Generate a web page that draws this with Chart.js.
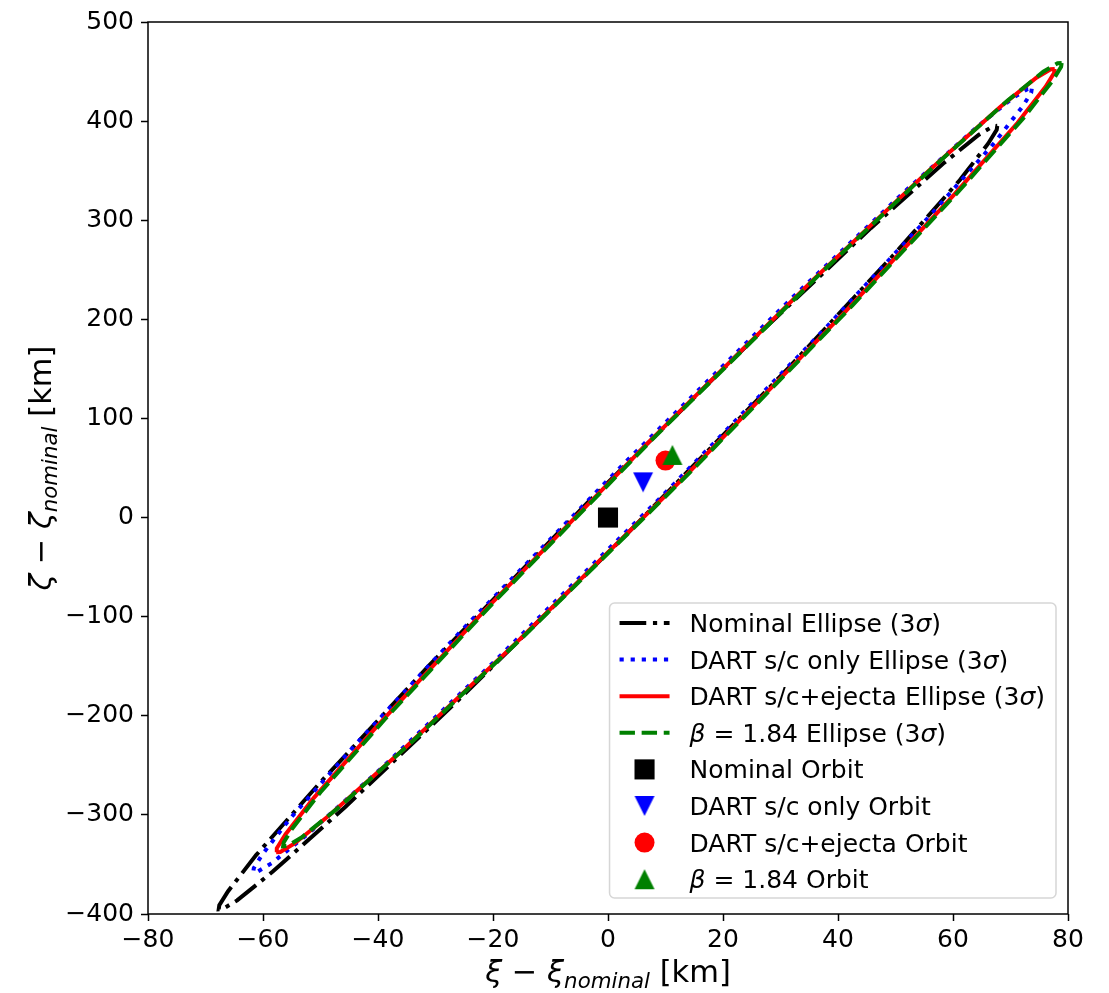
<!DOCTYPE html>
<html>
<head>
<meta charset="utf-8">
<script src="https://cdn.jsdelivr.net/npm/chart.js@4.4.1/dist/chart.umd.min.js"></script>
<style>
  html, body { margin: 0; padding: 0; background: #fff; }
  #chartCanvas { display: block; }
</style>
</head>
<body>
<canvas id="chartCanvas" width="1109" height="993"></canvas>
<script>
// 3-sigma ellipse outlines (km)
const nominalX = [67.7, 67.6, 66.1, 61.2, 50.0, 31.4, 3.1, -25.8, -45.7, -58.3, -64.5, -67.0, -67.7, -67.6, -66.1, -61.2, -50.0, -31.4, -3.1, 25.8, 45.7, 58.3, 64.5, 67.0, 67.7];
const nominalY = [395.2, 391.2, 377.2, 340.6, 267.0, 151.0, -17.7, -183.0, -292.0, -357.2, -386.3, -394.9, -395.2, -391.2, -377.2, -340.6, -267.0, -151.0, 17.7, 183.0, 292.0, 357.2, 386.3, 394.9, 395.2];

const scOnlyX = [73.7, 73.6, 72.1, 67.2, 56.0, 37.4, 9.1, -19.8, -39.7, -52.3, -58.5, -61.0, -61.7, -61.6, -60.1, -55.2, -44.0, -25.4, 2.9, 31.8, 51.7, 64.3, 70.5, 73.0, 73.7];
const scOnlyY = [432.7, 428.7, 414.7, 378.1, 304.5, 188.5, 19.8, -145.5, -254.5, -319.7, -348.8, -357.4, -357.7, -353.7, -339.7, -303.1, -229.5, -113.5, 55.2, 220.5, 329.5, 394.7, 423.8, 432.4, 432.7];

const ejectaX = [77.7, 77.6, 76.1, 71.2, 60.0, 41.4, 13.1, -15.8, -35.7, -48.3, -54.5, -57.0, -57.7, -57.6, -56.1, -51.2, -40.0, -21.4, 6.9, 35.8, 55.7, 68.3, 74.5, 77.0, 77.7];
const ejectaY = [452.7, 448.7, 434.7, 398.1, 324.5, 208.5, 39.8, -125.5, -234.5, -299.7, -328.8, -337.4, -337.7, -333.7, -319.7, -283.1, -209.5, -93.5, 75.2, 240.5, 349.5, 414.7, 443.8, 452.4, 452.7];

const betaX = [78.9, 78.8, 77.3, 72.4, 61.2, 42.6, 14.3, -14.6, -34.5, -47.1, -53.3, -55.8, -56.5, -56.4, -54.9, -50.0, -38.8, -20.2, 8.1, 37.0, 56.9, 69.5, 75.7, 78.2, 78.9];
const betaY = [458.7, 454.7, 440.7, 404.1, 330.5, 214.5, 45.8, -119.5, -228.5, -293.7, -322.8, -331.4, -331.7, -327.7, -313.7, -277.1, -203.5, -87.5, 81.2, 246.5, 355.5, 420.7, 449.8, 458.4, 458.7];

const ellipseLabels = ['Nominal Ellipse (3σ)', 'DART s/c only Ellipse (3σ)', 'DART s/c+ejecta Ellipse (3σ)', 'β = 1.84 Ellipse (3σ)'];

// orbit solutions
const orbitLabels = ['Nominal Orbit', 'DART s/c only Orbit', 'DART s/c+ejecta Orbit', 'β = 1.84 Orbit'];
const orbitX = [0, 6.1, 10.0, 11.2];
const orbitY = [0, 35.5, 57.5, 63.2];

const xTicks = [-80, -60, -40, -20, 0, 20, 40, 60, 80];
const yTicks = [-400, -300, -200, -100, 0, 100, 200, 300, 400, 500];

const FONT = '"DejaVu Sans", sans-serif';
const toPts = (xs, ys) => xs.map((x, i) => ({x: x, y: ys[i]}));
const fmt = v => String(v).replace('-', '\u2212');

function triMarker(color, down) {
    const c = document.createElement('canvas');
    c.width = 22; c.height = 22;
    const g = c.getContext('2d');
    g.fillStyle = color;
    g.beginPath();
    if (down) { g.moveTo(1, 1); g.lineTo(21, 1); g.lineTo(11, 21); }
    else { g.moveTo(11, 1); g.lineTo(21, 21); g.lineTo(1, 21); }
    g.closePath();
    g.fill();
    return c;
}

// split text so greek letters come out italic like mathtext
function runs(str) {
    return str.split(/([\u03b1-\u03c9])/).filter(s => s).map(s => ({t: s, it: /[\u03b1-\u03c9]/.test(s)}));
}

function drawParts(ctx, parts, x, y, size, measureOnly) {
    let cx = x;
    parts.forEach(p => {
        const s = p.sub ? size * 0.7 : size;
        ctx.font = (p.it ? 'italic ' : '') + s + 'px ' + FONT;
        if (!measureOnly) ctx.fillText(p.t, cx, y + (p.sub ? size * 0.2 : 0));
        cx += ctx.measureText(p.t).width;
    });
    return cx - x;
}

function drawMarker(ctx, d, x, y) {
    const st = d.pointStyle;
    ctx.fillStyle = d.backgroundColor;
    if (st instanceof HTMLCanvasElement) {
        ctx.drawImage(st, x - st.width / 2, y - st.height / 2);
    } else if (st === 'rect') {
        const s = d.pointRadius * Math.SQRT1_2;
        ctx.fillRect(x - s, y - s, 2 * s, 2 * s);
    } else {
        ctx.beginPath();
        ctx.arc(x, y, d.pointRadius, 0, Math.PI * 2);
        ctx.fill();
    }
}

function roundRectPath(ctx, x, y, w, h, r) {
    ctx.beginPath();
    ctx.moveTo(x + r, y);
    ctx.lineTo(x + w - r, y);
    ctx.arcTo(x + w, y, x + w, y + r, r);
    ctx.lineTo(x + w, y + h - r);
    ctx.arcTo(x + w, y + h, x + w - r, y + h, r);
    ctx.lineTo(x + r, y + h);
    ctx.arcTo(x, y + h, x, y + h - r, r);
    ctx.lineTo(x, y + r);
    ctx.arcTo(x, y, x + r, y, r);
    ctx.closePath();
}

function axisTitle(sym) {
    return [{t: sym, it: true}, {t: ' \u2212 '}, {t: sym, it: true}, {t: 'nominal', it: true, sub: true}, {t: ' [km]'}];
}

const extras = {
    id: 'extras',
    afterDatasetsDraw(chart) {
        const {ctx, chartArea: a} = chart;
        ctx.save();
        ctx.strokeStyle = '#000';
        ctx.lineWidth = 1.5;
        ctx.strokeRect(a.left, a.top, a.right - a.left, a.bottom - a.top);
        ctx.restore();
    },
    afterDraw(chart) {
        const {ctx, chartArea: a} = chart;
        const ds = chart.data.datasets;
        const fs = 25, rowH = 36.6;
        ctx.save();

        // legend, lower right inside the axes
        let maxW = 0;
        ds.forEach(d => { maxW = Math.max(maxW, drawParts(ctx, runs(d.label), 0, 0, fs, true)); });
        const w = 10 + 50 + 20 + maxW + 11;
        const h = 295;
        const left = a.right - 12 - w, top = a.bottom - 16 - h;
        roundRectPath(ctx, left, top, w, h, 5);
        ctx.fillStyle = 'rgba(255,255,255,0.8)';
        ctx.fill();
        ctx.strokeStyle = 'rgba(204,204,204,0.8)';
        ctx.lineWidth = 1.5;
        ctx.stroke();

        ds.forEach((d, i) => {
            const y = top + 20 + i * rowH;
            const hx = left + 10;
            if (d.showLine) {
                ctx.save();
                ctx.strokeStyle = d.borderColor;
                ctx.lineWidth = d.borderWidth;
                ctx.setLineDash(d.borderDash || []);
                ctx.beginPath();
                ctx.moveTo(hx, y);
                ctx.lineTo(hx + 50, y);
                ctx.stroke();
                ctx.restore();
            } else {
                drawMarker(ctx, d, hx + 25, y);
            }
            ctx.fillStyle = '#000';
            ctx.textBaseline = 'alphabetic';
            drawParts(ctx, runs(d.label), hx + 70, y + 9, fs);
        });

        // axis titles with subscripts
        const ls = 30.5;
        ctx.fillStyle = '#000';
        ctx.textBaseline = 'alphabetic';
        const xp = axisTitle('ξ');
        const xw = drawParts(ctx, xp, 0, 0, ls, true);
        drawParts(ctx, xp, (a.left + a.right) / 2 - xw / 2, 982, ls);

        const yp = axisTitle('ζ');
        const yw = drawParts(ctx, yp, 0, 0, ls, true);
        ctx.translate(51, (a.top + a.bottom) / 2);
        ctx.rotate(-Math.PI / 2);
        drawParts(ctx, yp, -yw / 2, 0, ls);
        ctx.restore();
    }
};

const tickFont = {family: FONT, size: 25};

new Chart(document.getElementById('chartCanvas'), {
    type: 'scatter',
    data: {
        datasets: [
            {label: ellipseLabels[0], data: toPts(nominalX, nominalY), showLine: true, borderColor: '#000000', borderWidth: 4, borderDash: [26.7, 6.7, 4.2, 6.7], pointRadius: 0, fill: false, order: 8},
            {label: ellipseLabels[1], data: toPts(scOnlyX, scOnlyY), showLine: true, borderColor: '#0000ff', borderWidth: 4, borderDash: [4.2, 6.9], pointRadius: 0, fill: false, order: 7},
            {label: ellipseLabels[2], data: toPts(ejectaX, ejectaY), showLine: true, borderColor: '#ff0000', borderWidth: 4, borderDash: [], pointRadius: 0, fill: false, order: 6},
            {label: ellipseLabels[3], data: toPts(betaX, betaY), showLine: true, borderColor: '#008000', borderWidth: 4, borderDash: [15.4, 6.7], pointRadius: 0, fill: false, order: 5},
            {label: orbitLabels[0], data: [{x: orbitX[0], y: orbitY[0]}], pointStyle: 'rect', pointRadius: 14.2, backgroundColor: '#000000', borderWidth: 0, order: 4},
            {label: orbitLabels[1], data: [{x: orbitX[1], y: orbitY[1]}], pointStyle: triMarker('#0000ff', true), pointRadius: 10, backgroundColor: '#0000ff', borderWidth: 0, order: 3},
            {label: orbitLabels[2], data: [{x: orbitX[2], y: orbitY[2]}], pointStyle: 'circle', pointRadius: 10, backgroundColor: '#ff0000', borderWidth: 0, order: 2},
            {label: orbitLabels[3], data: [{x: orbitX[3], y: orbitY[3]}], pointStyle: triMarker('#008000', false), pointRadius: 10, backgroundColor: '#008000', borderWidth: 0, order: 1}
        ]
    },
    options: {
        responsive: false,
        animation: false,
        events: [],
        layout: {padding: {left: 0, right: 41, top: 17, bottom: 0}},
        plugins: {legend: {display: false}, tooltip: {enabled: false}},
        scales: {
            x: {
                type: 'linear', min: -80, max: 80,
                afterBuildTicks: s => { s.ticks = xTicks.map(v => ({value: v})); },
                afterFit: s => { s.height = 79; },
                grid: {drawOnChartArea: false, drawTicks: true, tickLength: 7, tickWidth: 1.5, tickColor: '#000'},
                border: {display: false},
                ticks: {color: '#000', font: tickFont, padding: 4, maxRotation: 0, autoSkip: false, callback: fmt}
            },
            y: {
                type: 'linear', min: -400, max: 500,
                afterBuildTicks: s => { s.ticks = yTicks.map(v => ({value: v})); },
                afterFit: s => { s.width = 148; },
                grid: {drawOnChartArea: false, drawTicks: true, tickLength: 7, tickWidth: 1.5, tickColor: '#000'},
                border: {display: false},
                ticks: {color: '#000', font: tickFont, padding: 7, autoSkip: false, callback: fmt}
            }
        }
    },
    plugins: [extras]
});
</script>
</body>
</html>
